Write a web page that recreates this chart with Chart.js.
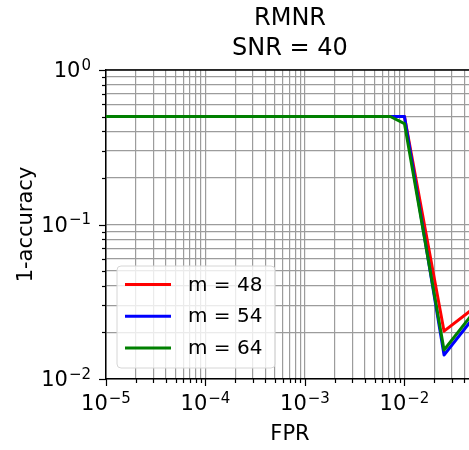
<!DOCTYPE html>
<html>
<head>
<meta charset="utf-8">
<title>RMNR SNR = 40</title>
<script src="https://cdn.jsdelivr.net/npm/chart.js@4"></script>
<style>
  html, body { margin: 0; padding: 0; overflow: hidden; background: #fff; }
  #wrap { width: 480px; height: 450px; }
</style>
</head>
<body>
<div id="wrap"><canvas id="rocChart" width="480" height="450"></canvas></div>
<script>
// false positive rate at each operating point
var fpr = [1e-5, 0.0072, 0.01, 0.025, 0.05];
// 1-accuracy for each number of measurements m
var err48 = [0.5, 0.5, 0.5, 0.0204, 0.0288];
var err54 = [0.5, 0.5, 0.5, 0.0143, 0.0252];
var err64 = [0.5, 0.5, 0.45, 0.0154, 0.0272];
var seriesLabels = ['m = 48', 'm = 54', 'm = 64'];
var seriesColors = ['#ff0000', '#0000ff', '#008000'];
// decade exponents used for the labelled ticks
var xDecades = [-5, -4, -3, -2];
var yDecades = [-2, -1, 0];
var titleLines = ['RMNR', 'SNR = 40'];

var FONT = 'DejaVu Sans';

// major ticks at each decade, minor ticks at 2..9 times the decade
function logTicks(decades, max) {
    var ticks = [];
    decades.forEach(function (e) {
        for (var m = 1; m <= 9; m++) {
            var v = m * Math.pow(10, e);
            if (v <= max * 1.0001) ticks.push({ value: v, major: m === 1 });
        }
    });
    return ticks;
}

function toPoints(ys) {
    return fpr.map(function (x, i) { return { x: x, y: ys[i] }; });
}

// draws "10" with a raised exponent, like a mathtext label
function drawPower(ctx, x, y, exp, align) {
    var base = '10';
    var sup = exp < 0 ? '\u2212' + (-exp) : String(exp);
    ctx.font = '21px "' + FONT + '"';
    var wb = ctx.measureText(base).width;
    ctx.font = '15px "' + FONT + '"';
    var we = ctx.measureText(sup).width;
    var total = wb + we + 1;
    var start = align === 'center' ? x - total / 2 : x - total;
    ctx.textAlign = 'left';
    ctx.textBaseline = 'middle';
    ctx.fillStyle = '#000';
    ctx.font = '21px "' + FONT + '"';
    ctx.fillText(base, start, y);
    ctx.font = '15px "' + FONT + '"';
    ctx.fillText(sup, start + wb + 1, y - 6);
}

// legend box, tick marks, tick labels and the top spine
var axisDecor = {
    id: 'axisDecor',
    afterDraw: function (chart) {
        var ctx = chart.ctx;
        var area = chart.chartArea;
        var xs = chart.scales.x;
        var ys = chart.scales.y;
        ctx.save();

        // legend in the lower left corner
        var bx = area.left + 11, bw = 158, bh = 102;
        var by = area.bottom - 11 - bh;
        var r = 4;
        ctx.beginPath();
        ctx.moveTo(bx + r, by);
        ctx.arcTo(bx + bw, by, bx + bw, by + bh, r);
        ctx.arcTo(bx + bw, by + bh, bx, by + bh, r);
        ctx.arcTo(bx, by + bh, bx, by, r);
        ctx.arcTo(bx, by, bx + bw, by, r);
        ctx.closePath();
        ctx.fillStyle = 'rgba(255,255,255,0.8)';
        ctx.fill();
        ctx.strokeStyle = '#d6d6d6';
        ctx.lineWidth = 1;
        ctx.stroke();
        chart.data.datasets.forEach(function (ds, i) {
            var ry = by + 18.5 + i * 31.7;
            ctx.beginPath();
            ctx.moveTo(bx + 8, ry);
            ctx.lineTo(bx + 54, ry);
            ctx.strokeStyle = ds.borderColor;
            ctx.lineWidth = 3;
            ctx.stroke();
            ctx.font = '20px "' + FONT + '"';
            ctx.fillStyle = '#000';
            ctx.textAlign = 'left';
            ctx.textBaseline = 'middle';
            ctx.fillText(ds.label, bx + 71, ry + 1);
        });

        // top spine
        ctx.beginPath();
        ctx.moveTo(area.left, area.top);
        ctx.lineTo(area.right, area.top);
        ctx.strokeStyle = '#000';
        ctx.lineWidth = 1.5;
        ctx.stroke();

        // tick marks, longer at the decades
        ctx.lineWidth = 1.2;
        xs.ticks.forEach(function (t) {
            var px = Math.round(xs.getPixelForValue(t.value)) + 0.5;
            ctx.beginPath();
            ctx.moveTo(px, area.bottom);
            ctx.lineTo(px, area.bottom + (t.major ? 7 : 4));
            ctx.stroke();
        });
        ys.ticks.forEach(function (t) {
            var py = Math.round(ys.getPixelForValue(t.value)) + 0.5;
            ctx.beginPath();
            ctx.moveTo(area.left, py);
            ctx.lineTo(area.left - (t.major ? 7 : 4), py);
            ctx.stroke();
        });

        xDecades.forEach(function (e) {
            drawPower(ctx, xs.getPixelForValue(Math.pow(10, e)), area.bottom + 26, e, 'center');
        });
        yDecades.forEach(function (e) {
            drawPower(ctx, area.left - 15, ys.getPixelForValue(Math.pow(10, e)) + 2, e, 'right');
        });
        ctx.restore();
    }
};

var ctx = document.getElementById('rocChart').getContext('2d');
var rocChart = new Chart(ctx, {
    type: 'line',
    data: {
        datasets: [err48, err54, err64].map(function (ys, i) {
            return {
                label: seriesLabels[i],
                data: toPoints(ys),
                borderColor: seriesColors[i],
                backgroundColor: seriesColors[i],
                borderWidth: 3,
                borderJoinStyle: 'round',
                pointRadius: 0,
                tension: 0,
                order: 2 - i // green drawn on top
            };
        })
    },
    options: {
        responsive: false,
        animation: false,
        layout: { padding: { left: 0, right: 6, top: 0, bottom: 0 } },
        plugins: {
            legend: { display: false },
            tooltip: { enabled: false },
            title: {
                display: true,
                text: titleLines,
                fullSize: false,
                color: '#000',
                font: { family: FONT, size: 24, weight: 'normal', lineHeight: 1.25 },
                padding: { top: 4, bottom: 6 }
            }
        },
        scales: {
            x: {
                type: 'logarithmic',
                min: 1e-5,
                max: 0.05,
                afterBuildTicks: function (scale) { scale.ticks = logTicks(xDecades, 0.05); },
                afterFit: function (scale) { scale.height = 71; },
                ticks: { display: false },
                grid: { color: '#9c9c9c', lineWidth: 1.2, drawTicks: false },
                border: { color: '#000', width: 1.5 },
                title: {
                    display: true,
                    text: 'FPR',
                    color: '#000',
                    font: { family: FONT, size: 21, lineHeight: 1.2 },
                    padding: { top: 0, bottom: 3 }
                }
            },
            y: {
                type: 'logarithmic',
                min: 0.01,
                max: 1,
                afterBuildTicks: function (scale) { scale.ticks = logTicks(yDecades, 1); },
                afterFit: function (scale) { scale.width = 106; },
                ticks: { display: false },
                grid: { color: '#9c9c9c', lineWidth: 1.2, drawTicks: false },
                border: { color: '#000', width: 1.5 },
                title: {
                    display: true,
                    text: '1-accuracy',
                    color: '#000',
                    font: { family: FONT, size: 21, lineHeight: 1.2 },
                    padding: { top: 14, bottom: 0 }
                }
            }
        }
    },
    plugins: [axisDecor]
});
</script>
</body>
</html>
